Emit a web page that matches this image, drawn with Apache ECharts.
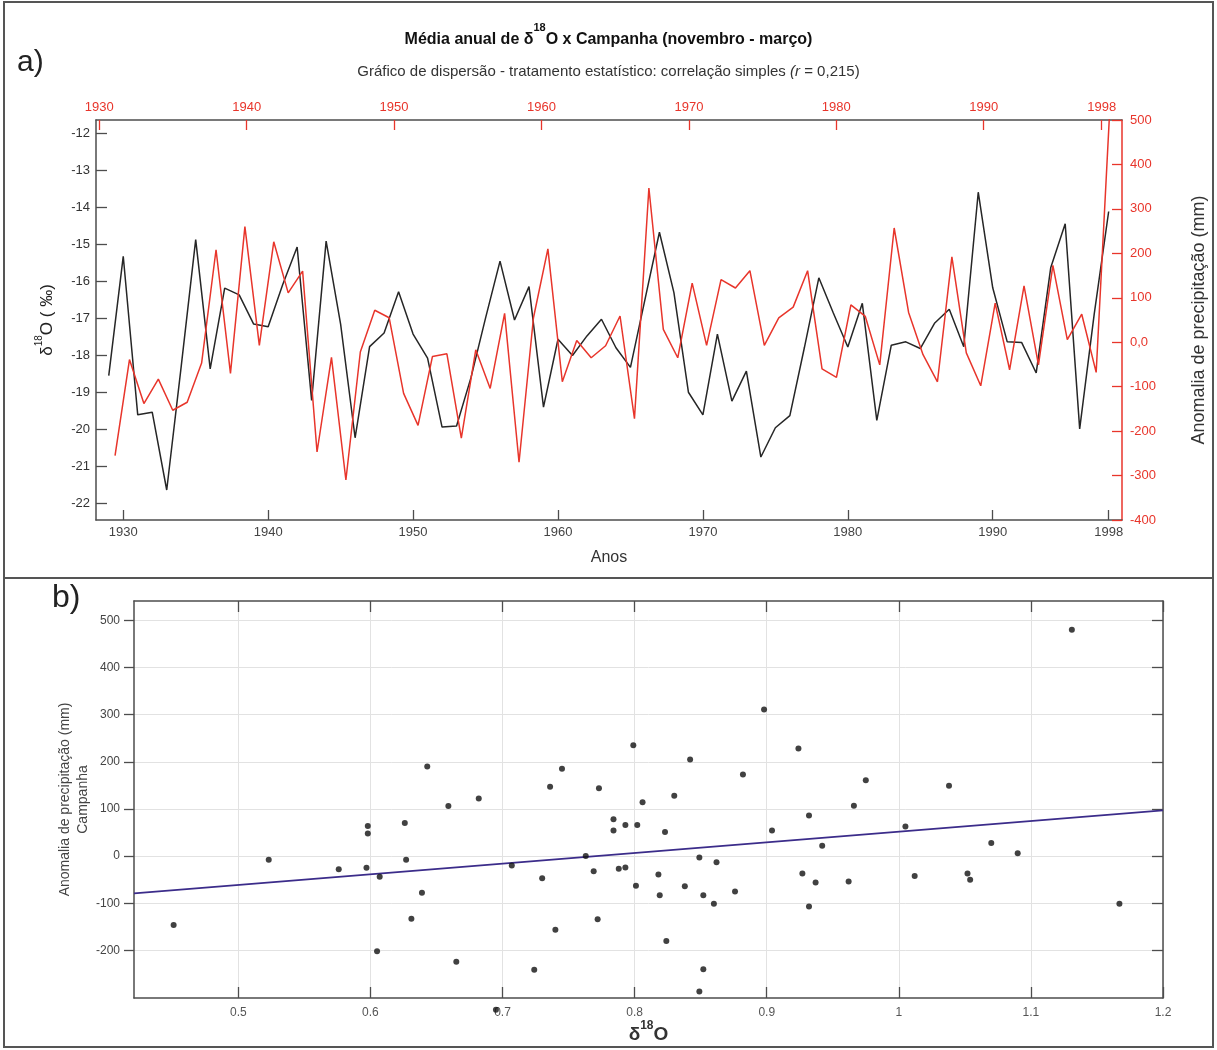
<!DOCTYPE html>
<html>
<head>
<meta charset="utf-8">
<script src="https://cdn.jsdelivr.net/npm/echarts@6/dist/echarts.min.js"></script>
<style>
  html, body { margin: 0; padding: 0; background: #fff; }
  #chart { width: 1217px; height: 1050px; }
</style>
</head>
<body>
<div id="chart"></div>
<script>
// ---- data ----
var years = [1929, 1930, 1931, 1932, 1933, 1934, 1935, 1936, 1937, 1938,
             1939, 1940, 1941, 1942, 1943, 1944, 1945, 1946, 1947, 1948,
             1949, 1950, 1951, 1952, 1953, 1954, 1955, 1956, 1957, 1958,
             1959, 1960, 1961, 1962, 1963, 1964, 1965, 1966, 1967, 1968,
             1969, 1970, 1971, 1972, 1973, 1974, 1975, 1976, 1977, 1978,
             1979, 1980, 1981, 1982, 1983, 1984, 1985, 1986, 1987, 1988,
             1989, 1990, 1991, 1992, 1993, 1994, 1995, 1996, 1997, 1998];

// δ18O (‰), black line
var delta18O = [-18.55, -15.33, -19.61, -19.54, -21.64, -18.3, -14.88, -18.37, -16.19, -16.37,
                -17.16, -17.23, -16.1, -15.08, -19.22, -14.92, -17.16, -20.23, -17.77, -17.40,
                -16.29, -17.43, -18.08, -19.94, -19.91, -18.6, -17.0, -15.46, -17.05, -16.15,
                -19.40, -17.57, -18.01, -17.48, -17.03, -17.8, -18.33, -16.5, -14.68, -16.31,
                -19.0, -19.61, -17.43, -19.24, -18.43, -20.75, -19.96, -19.63, -17.8, -15.91,
                -16.86, -17.78, -16.6, -19.76, -17.73, -17.64, -17.82, -17.13, -16.76, -17.77,
                -13.60, -16.18, -17.64, -17.66, -18.48, -15.64, -14.45, -19.99, -16.9, -14.12];

// anomalia de precipitação (mm), red line
var precipAnomaly = [-255, -39, -138, -83, -153, -135, -47, 208, -70, 260,
                     -7, 226, 111, 160, -247, -34, -310, -22, 72, 55,
                     -115, -187, -32, -26, -216, -17, -104, 65, -270, 55,
                     210, -89, 4, -35, -8, 59, -172, 347, 29, -35,
                     133, -7, 141, 122, 161, -7, 55, 79, 161, -60,
                     -79, 84, 58, -51, 257, 67, -28, -89, 192, -24,
                     -98, 88, -62, 127, -51, 173, 6, 63, -68, 560];

// scatter (panel b)
var scatterDelta = [0.451, 0.523, 0.576, 0.598, 0.598, 0.597, 0.607, 0.605, 0.626, 0.627,
                    0.631, 0.639, 0.643, 0.659, 0.665, 0.682, 0.695, 0.707, 0.724, 0.730,
                    0.736, 0.740, 0.745, 0.763, 0.769, 0.773, 0.772, 0.784, 0.784, 0.788,
                    0.793, 0.793, 0.799, 0.801, 0.802, 0.806, 0.818, 0.819, 0.823, 0.824,
                    0.830, 0.838, 0.842, 0.849, 0.849, 0.852, 0.852, 0.860, 0.862, 0.876,
                    0.882, 0.898, 0.904, 0.924, 0.927, 0.932, 0.932, 0.937, 0.942, 0.962,
                    0.966, 0.975, 1.005, 1.012, 1.038, 1.052, 1.054, 1.070, 1.090, 1.131,
                    1.167];
var scatterAnomaly = [-146, -8, -28, 64, 48, -25, -44, -202, 70, -8,
                      -133, -78, 190, 106, -224, 122, -326, -20, -241, -47,
                      147, -156, 185, 0, -32, 144, -134, 78, 54, -27,
                      66, -24, 235, -63, 66, 114, -39, -83, 51, -180,
                      128, -64, 205, -3, -287, -83, -240, -101, -13, -75,
                      173, 311, 54, 228, -37, 86, -107, -56, 22, -54,
                      107, 161, 63, -42, 149, -37, -50, 28, 6, 480,
                      -101];
var trendX = [0.421, 1.2];
var trendY = [-79, 97];

// tick labels
var yearTicks = [1930, 1940, 1950, 1960, 1970, 1980, 1990, 1998];
var deltaTicks = [-22, -21, -20, -19, -18, -17, -16, -15, -14, -13, -12];
var anomalyTicks = [-400, -300, -200, -100, 0, 100, 200, 300, 400, 500];
var scatterXTicks = [0.5, 0.6, 0.7, 0.8, 0.9, 1, 1.1, 1.2];
var scatterYTicks = [-200, -100, 0, 100, 200, 300, 400, 500];

var RED = '#e8352b';
var AXIS = '#4d4d4d';
var FONT = 'Liberation Sans, Arial, sans-serif';

var chart = echarts.init(document.getElementById('chart'));

var lineBlack = years.map(function (y, i) { return [y, delta18O[i]]; });
var lineRed = years.map(function (y, i) { return [y, precipAnomaly[i]]; });
var dots = scatterDelta.map(function (x, i) { return [x, scatterAnomaly[i]]; });
var trend = trendX.map(function (x, i) { return [x, trendY[i]]; });

function plain(v) { return String(v); }

option = {
    animation: false,
    backgroundColor: '#fff',
    textStyle: { fontFamily: FONT },
    title: [{
        text: '{b|Média anual de δ}{sup|18}{b|O x Campanha (novembro - março)}',
        left: 'center',
        top: 17,
        textStyle: {
            fontWeight: 'bold',
            rich: {
                b: { fontSize: 16, fontWeight: 'bold', color: '#111', lineHeight: 26, verticalAlign: 'bottom', fontFamily: FONT },
                sup: { fontSize: 11, fontWeight: 'bold', color: '#111', lineHeight: 26, verticalAlign: 'top', fontFamily: FONT }
            }
        }
    }, {
        text: '{n|Gráfico de dispersão - tratamento estatístico: correlação simples }{i|(r}{n| = 0,215)}',
        left: 'center',
        top: 59,
        textStyle: {
            fontWeight: 'normal',
            rich: {
                n: { fontSize: 15, color: '#333', fontWeight: 'normal', fontFamily: FONT },
                i: { fontSize: 15, color: '#333', fontWeight: 'normal', fontStyle: 'italic', fontFamily: FONT }
            }
        }
    }],
    graphic: [
        { type: 'rect', shape: { x: 4, y: 2, width: 1209, height: 576 },
          style: { fill: 'none', stroke: '#555', lineWidth: 2 } },
        { type: 'rect', shape: { x: 4, y: 578, width: 1209, height: 469 },
          style: { fill: 'none', stroke: '#555', lineWidth: 2 } },
        { type: 'text', left: 17, top: 48, style: { text: 'a)', fontSize: 30, fill: '#222', fontFamily: FONT } },
        { type: 'text', left: 52, top: 582, style: { text: 'b)', fontSize: 32, fill: '#222', fontFamily: FONT } }
    ],
    grid: [
        { left: 96, top: 120, width: 1026, height: 400 },
        { left: 134, top: 601, width: 1029, height: 397 }
    ],
    xAxis: [{
        // anos (linha preta)
        type: 'value', gridIndex: 0, position: 'bottom',
        min: 1928.12, max: 1998.92,
        name: 'Anos', nameLocation: 'middle', nameGap: 30,
        nameTextStyle: { fontSize: 16, color: '#333' },
        axisLine: { onZero: false, lineStyle: { color: AXIS, width: 1.5 } },
        axisTick: { inside: true, length: 10, lineStyle: { color: AXIS, width: 1.3 }, customValues: yearTicks },
        axisLabel: { customValues: yearTicks, formatter: plain, color: '#444', fontSize: 13, margin: 6 },
        splitLine: { show: false }
    }, {
        // eixo superior vermelho
        type: 'value', gridIndex: 0, position: 'top',
        min: 1929.78, max: 1999.38,
        axisLine: { onZero: false, lineStyle: { color: AXIS, width: 1.5 } },
        axisTick: { inside: true, length: 10, lineStyle: { color: RED, width: 1.3 }, customValues: yearTicks },
        axisLabel: { customValues: yearTicks, formatter: plain, color: RED, fontSize: 13, margin: 6 },
        splitLine: { show: false }
    }, {
        // eixo da série vermelha
        type: 'value', gridIndex: 0, show: false,
        min: 1927.68, max: 1998.79,
        axisLine: { onZero: false },
        splitLine: { show: false }
    }, {
        type: 'value', gridIndex: 1, position: 'bottom',
        min: 0.421, max: 1.2,
        name: '{d|δ}{sup|18}{d|O}', nameLocation: 'middle', nameGap: 22,
        nameTextStyle: {
            rich: {
                d: { fontSize: 19, fontWeight: 'bold', color: '#333', lineHeight: 24, verticalAlign: 'bottom', fontFamily: FONT },
                sup: { fontSize: 12, fontWeight: 'bold', color: '#333', lineHeight: 24, verticalAlign: 'top', fontFamily: FONT }
            }
        },
        axisLine: { onZero: false, lineStyle: { color: AXIS, width: 1.5 } },
        axisTick: { inside: true, length: 11, lineStyle: { color: AXIS, width: 1.3 }, customValues: scatterXTicks },
        axisLabel: { customValues: scatterXTicks, color: '#555', fontSize: 12, margin: 9 },
        splitLine: { show: true, lineStyle: { color: '#e2e2e2', width: 1 } }
    }, {
        type: 'value', gridIndex: 1, position: 'top',
        min: 0.421, max: 1.2,
        axisLine: { onZero: false, lineStyle: { color: AXIS, width: 1.5 } },
        axisTick: { inside: true, length: 11, lineStyle: { color: AXIS, width: 1.3 }, customValues: scatterXTicks },
        axisLabel: { show: false },
        splitLine: { show: false }
    }],
    yAxis: [{
        type: 'value', gridIndex: 0, position: 'left',
        min: -22.45, max: -11.65,
        name: '{d|δ}{sup|18}{d|O ( ‰)}', nameLocation: 'middle', nameGap: 40,
        nameTextStyle: {
            rich: {
                d: { fontSize: 17, color: '#222', lineHeight: 22, verticalAlign: 'bottom', fontFamily: FONT },
                sup: { fontSize: 10, color: '#222', lineHeight: 22, verticalAlign: 'top', fontFamily: FONT }
            }
        },
        axisLine: { show: true, onZero: false, lineStyle: { color: AXIS, width: 1.5 } },
        axisTick: { show: true, inside: true, length: 11, lineStyle: { color: AXIS, width: 1.3 }, customValues: deltaTicks },
        axisLabel: { customValues: deltaTicks, color: '#333', fontSize: 13, margin: 6 },
        splitLine: { show: false }
    }, {
        type: 'value', gridIndex: 0, position: 'right',
        min: -400, max: 500,
        name: 'Anomalia de precipitação (mm)', nameLocation: 'middle', nameGap: 68,
        nameTextStyle: { fontSize: 18, color: '#333' },
        axisLine: { show: true, onZero: false, lineStyle: { color: RED, width: 1.5 } },
        axisTick: { show: true, inside: true, length: 10, lineStyle: { color: RED, width: 1.3 }, customValues: anomalyTicks },
        axisLabel: {
            customValues: anomalyTicks, color: RED, fontSize: 13, margin: 8,
            formatter: function (v) { return v === 0 ? '0,0' : String(v); }
        },
        splitLine: { show: false }
    }, {
        type: 'value', gridIndex: 1, position: 'left',
        min: -301, max: 541,
        name: 'Anomalia de precipitação (mm)\nCampanha', nameLocation: 'middle', nameGap: 42,
        nameMoveOverlap: false,
        nameTextStyle: { fontSize: 14, color: '#444', lineHeight: 18 },
        axisLine: { show: true, onZero: false, lineStyle: { color: AXIS, width: 1.5 } },
        axisTick: { show: true, inside: false, length: 10, lineStyle: { color: AXIS, width: 1.3 }, customValues: scatterYTicks },
        axisLabel: { customValues: scatterYTicks, color: '#444', fontSize: 12, margin: 14 },
        splitLine: { show: true, lineStyle: { color: '#e2e2e2', width: 1 } }
    }, {
        type: 'value', gridIndex: 1, position: 'right',
        min: -301, max: 541,
        axisLine: { show: true, onZero: false, lineStyle: { color: AXIS, width: 1.5 } },
        axisTick: { show: true, inside: true, length: 11, lineStyle: { color: AXIS, width: 1.3 }, customValues: scatterYTicks },
        axisLabel: { show: false },
        splitLine: { show: false }
    }],
    series: [{
        name: 'δ18O',
        type: 'line',
        xAxisIndex: 0, yAxisIndex: 0,
        data: lineBlack,
        symbol: 'none',
        lineStyle: { color: '#262626', width: 1.5 },
        z: 3
    }, {
        name: 'Anomalia',
        type: 'line',
        xAxisIndex: 2, yAxisIndex: 1,
        data: lineRed,
        symbol: 'none',
        lineStyle: { color: RED, width: 1.5 },
        z: 4
    }, {
        name: 'reta',
        type: 'line',
        xAxisIndex: 3, yAxisIndex: 2,
        data: trend,
        symbol: 'none',
        lineStyle: { color: '#3b2c8a', width: 1.8 },
        z: 3
    }, {
        name: 'pontos',
        type: 'scatter',
        xAxisIndex: 3, yAxisIndex: 2,
        data: dots,
        symbolSize: 6,
        clip: false,
        itemStyle: { color: '#111' },
        z: 4
    }]
};
chart.setOption(option);
</script>
</body>
</html>
